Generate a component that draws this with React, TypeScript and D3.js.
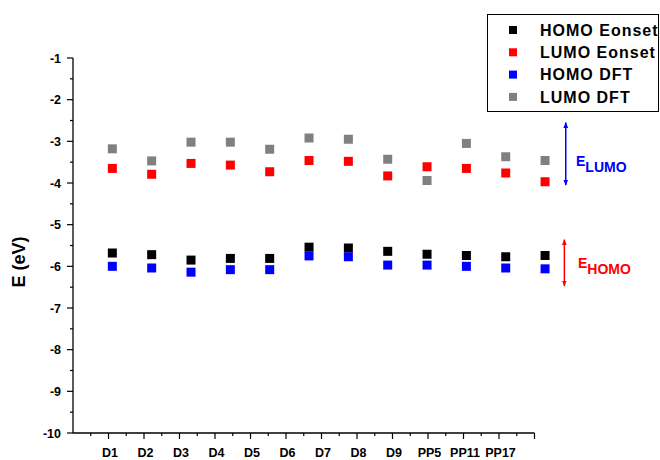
import React from "react";
import * as d3 from "d3";

const categories = ["D1", "D2", "D3", "D4", "D5", "D6", "D7", "D8", "D9", "PP5", "PP11", "PP17"];
const homoEonset = [-5.68, -5.72, -5.85, -5.81, -5.81, -5.54, -5.56, -5.64, -5.71, -5.74, -5.77, -5.74];
const lumoEonset = [-3.65, -3.79, -3.53, -3.57, -3.73, -3.46, -3.48, -3.83, -3.61, -3.65, -3.76, -3.97];
const homoDft = [-6.0, -6.04, -6.14, -6.08, -6.08, -5.75, -5.77, -5.97, -5.97, -6.0, -6.04, -6.06];
const lumoDft = [-3.18, -3.47, -3.02, -3.02, -3.19, -2.92, -2.95, -3.43, -3.94, -3.05, -3.37, -3.46];
const yTicks = [-1, -2, -3, -4, -5, -6, -7, -8, -9, -10];

const series = [
  { name: "HOMO Eonset", color: "#000000", values: homoEonset },
  { name: "LUMO Eonset", color: "#ff0000", values: lumoEonset },
  { name: "HOMO DFT", color: "#0000ff", values: homoDft },
  { name: "LUMO DFT", color: "#808080", values: lumoDft },
];

const FONT = "'Liberation Sans', Arial, sans-serif";

export default function App() {
  const width = 660;
  const height = 460;
  // axis scale (ticks and category labels)
  const x = d3.scaleLinear().domain([0, 13]).range([73, 534.5]);
  // marker layer is laid out on a slightly wider scale sharing the same origin
  const xm = d3.scaleLinear().domain([0, 13]).range([73, 584.4]);
  const y = d3.scaleLinear().domain([-10, -1]).range([433, 58]);
  const x0 = x(0);
  const yBase = y(-10);
  const marker = 9;

  const xMajor = d3.range(1, 14);
  const xMinor = d3.range(0.5, 13, 1);
  const yMinor = d3.range(-9.5, -1, 1);

  const arrowX1 = xm(12) + 20.7;
  const arrowX2 = xm(12) + 19.3;

  return (
    <div style={{ position: "absolute", left: 0, top: 0 }}>
      <svg width={width} height={height} style={{ display: "block", background: "#fff" }}>
        <defs>
          <marker id="headBlue" viewBox="0 0 10 10" refX="9" refY="5" markerWidth="6" markerHeight="8" orient="auto-start-reverse" markerUnits="userSpaceOnUse">
            <path d="M0,1 L10,5 L0,9 Z" fill="#0000ff" />
          </marker>
          <marker id="headRed" viewBox="0 0 10 10" refX="9" refY="5" markerWidth="6" markerHeight="8" orient="auto-start-reverse" markerUnits="userSpaceOnUse">
            <path d="M0,1 L10,5 L0,9 Z" fill="#ff0000" />
          </marker>
        </defs>

        {/* y axis */}
        <line x1={x0} x2={x0} y1={y(-1)} y2={yBase} stroke="#000" strokeWidth={1.3} />
        {yTicks.map((t) => (
          <g key={`yt${t}`}>
            <line x1={x0 - 6} x2={x0} y1={y(t)} y2={y(t)} stroke="#000" strokeWidth={1.2} />
            <text x={x0 - 12} y={y(t)} dy="0.36em" textAnchor="end" fontFamily={FONT} fontWeight="bold" fontSize={12.5}>
              {t}
            </text>
          </g>
        ))}
        {yMinor.map((t) => (
          <line key={`ym${t}`} x1={x0 - 3} x2={x0} y1={y(t)} y2={y(t)} stroke="#000" strokeWidth={1.2} />
        ))}

        {/* x axis */}
        <line x1={x0} x2={x(13)} y1={yBase} y2={yBase} stroke="#000" strokeWidth={1.3} />
        {xMajor.map((t) => (
          <line key={`xt${t}`} x1={x(t)} x2={x(t)} y1={yBase} y2={yBase + 6} stroke="#000" strokeWidth={1.2} />
        ))}
        {xMinor.map((t) => (
          <line key={`xm${t}`} x1={x(t)} x2={x(t)} y1={yBase} y2={yBase + 3} stroke="#000" strokeWidth={1.2} />
        ))}
        {categories.map((c, i) => (
          <text key={c} x={x(i + 1) + 1.5} y={yBase + 24} textAnchor="middle" fontFamily={FONT} fontWeight="bold" fontSize={12.5}>
            {c}
          </text>
        ))}

        {/* axis title */}
        <text
          transform={`translate(25, ${262}) rotate(-90)`}
          textAnchor="middle"
          fontFamily={FONT}
          fontWeight="bold"
          fontSize={18}
        >
          E (eV)
        </text>

        {/* data markers */}
        {series.map((s) =>
          s.values.map((v, i) => (
            <rect
              key={`${s.name}${i}`}
              x={xm(i + 1) - marker / 2}
              y={y(v) - marker / 2}
              width={marker}
              height={marker}
              fill={s.color}
            />
          ))
        )}

        {/* energy-range arrows */}
        <line x1={arrowX1} x2={arrowX1} y1={y(-4.05)} y2={y(-2.55)} stroke="#0000ff" strokeWidth={1.5} markerStart="url(#headBlue)" markerEnd="url(#headBlue)" />
        <text x={576} y={166} fontFamily={FONT} fontWeight="bold" fontSize={14} fill="#0000ff">
          E<tspan dy={6} fontSize={14}>LUMO</tspan>
        </text>
        <line x1={arrowX2} x2={arrowX2} y1={y(-6.47)} y2={y(-5.36)} stroke="#ff0000" strokeWidth={1.5} markerStart="url(#headRed)" markerEnd="url(#headRed)" />
        <text x={578} y={268} fontFamily={FONT} fontWeight="bold" fontSize={14} fill="#ff0000">
          E<tspan dy={6} fontSize={14}>HOMO</tspan>
        </text>

        {/* legend */}
        <rect x={487.5} y={14.5} width={171} height={97} fill="#fff" stroke="#000" strokeWidth={1} />
        {series.map((s, i) => (
          <g key={`lg${s.name}`} transform={`translate(0, ${30 + i * 22.3})`}>
            <rect x={509} y={-4} width={8} height={8} fill={s.color} />
            <text x={540} y={0} dy="0.36em" fontFamily={FONT} fontWeight="bold" fontSize={16} letterSpacing={1}>
              {s.name}
            </text>
          </g>
        ))}
      </svg>
    </div>
  );
}
